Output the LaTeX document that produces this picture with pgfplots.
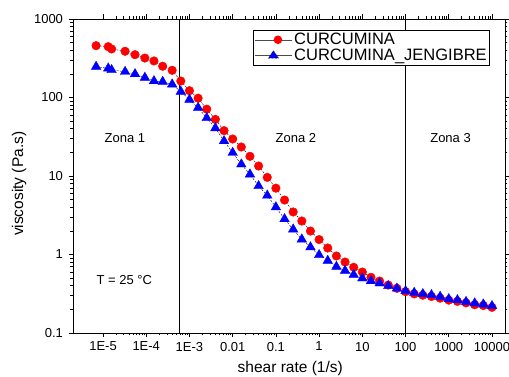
\documentclass[border=0pt]{standalone}
\usepackage{pgfplots}
\pgfplotsset{compat=1.18}
\usepackage{fontspec}
\setmainfont{Liberation Sans}
\definecolor{ored}{RGB}{255,0,0}
\definecolor{oblue}{RGB}{0,0,255}
\pgfplotstableread{
x y
6.92e-6 457
1.32e-5 444
1.58e-5 415
3.24e-5 388
5.5e-5 351
9.3e-5 318
1.51e-4 292
2.4e-4 250
3.98e-4 222
6.31e-4 162
1e-3 122
1.585e-3 98
2.512e-3 71
3.981e-3 52.6
6.31e-3 37.8
0.01 29.6
0.01585 23.4
0.02512 17.8
0.03981 13.4
0.0631 9.6
0.1 7.0
0.1585 4.94
0.2512 3.48
0.3981 2.67
0.631 1.99
1 1.55
1.585 1.21
2.512 0.957
3.981 0.802
6.31 0.687
10 0.598
15.85 0.512
25.12 0.459
39.81 0.408
63.1 0.371
100 0.336
158.5 0.315
251.2 0.303
398.1 0.292
631 0.278
1000 0.262
1585 0.253
2512 0.242
3981 0.229
6310 0.224
10000 0.212
}\curcumina
\pgfplotstableread{
x y
6.92e-6 247
1.32e-5 235
1.58e-5 224
3.24e-5 213
5.5e-5 199
9.3e-5 179
1.51e-4 162
2.4e-4 159
3.98e-4 147
6.31e-4 119
1e-3 94
1.585e-3 74
2.512e-3 54.8
3.981e-3 40.8
6.31e-3 27.9
0.01 19.8
0.01585 14.1
0.02512 10.5
0.03981 7.46
0.0631 5.65
0.1 4.01
0.1585 2.83
0.2512 2.09
0.3981 1.56
0.631 1.24
1 0.986
1.585 0.834
2.512 0.700
3.981 0.622
6.31 0.553
10 0.498
15.85 0.459
25.12 0.430
39.81 0.397
63.1 0.369
100 0.343
158.5 0.326
251.2 0.314
398.1 0.305
631 0.290
1000 0.271
1585 0.263
2512 0.250
3981 0.239
6310 0.232
10000 0.221
}\jengibre
\begin{document}
\begin{tikzpicture}
\begin{axis}[
  at={(0,0)}, anchor=south west,
  scale only axis, width=432pt, height=314pt,
  xmode=log, ymode=log,
  xmin=2.02e-6, xmax=2.0e4,
  ymin=0.1, ymax=1000,
  axis line style={line width=0.8pt},
  tick align=outside,
  major tick length=4.5pt, minor tick length=2.5pt,
  every tick/.style={black, line width=0.6pt},
  xtick={1e-5,1e-4,1e-3,1e-2,1e-1,1,10,100,1000,10000},
  xticklabels={1E-5,1E-4,1E-3,0.01,0.1,1,10,100,1000,10000},
  ytick={0.1,1,10,100,1000},
  yticklabels={0.1,1,10,100,1000},
  /pgf/number format/assume math mode=true,
  tick label style={font=\fontsize{13}{15}\selectfont},
  xticklabel style={yshift=-1pt},
  yticklabel style={xshift=-2pt},
  xlabel={shear rate (1/s)},
  ylabel={viscosity (Pa.s)},
  label style={font=\fontsize{15.5}{18}\selectfont},
  xlabel style={at={(axis description cs:0.503,-0.127)}, anchor=base},
  ylabel style={at={(axis description cs:-0.1157,0.475)}, anchor=base, rotate=0},
  legend style={at={(rel axis cs:0.9653,0.965)}, anchor=north east,
    draw=black, line width=0.6pt, font=\fontsize{16.5}{18}\selectfont,
    inner xsep=1pt, inner ysep=1pt, row sep=-1.5pt},
  legend cell align=left,
  clip=false,
]
\addplot[black, line width=0.4pt, dash pattern=on 2pt off 1.5pt,
  mark=*, mark size=4.3pt, mark options={solid, fill=ored, draw=ored},
  legend image code/.code={
    \draw[black!70, solid, line width=0.5pt] (0pt,0pt) -- (37pt,0pt);
    \path (18.5pt,0pt) node[circle, fill=ored, inner sep=0pt, minimum size=8.6pt]{};
  }] table[x=x,y=y]{\curcumina};
\addlegendentry{CURCUMINA}
\addplot[black, line width=0.4pt, dash pattern=on 2pt off 1.5pt,
  mark=triangle*, mark size=5.5pt, mark options={solid, fill=oblue, draw=oblue},
  legend image code/.code={
    \draw[black!70, solid, line width=0.5pt] (0pt,0pt) -- (37pt,0pt);
    \path[fill=oblue] (18.5pt,4.6pt) -- (23.5pt,-2.8pt) -- (13.5pt,-2.8pt) -- cycle;
  }] table[x=x,y=y]{\jengibre};
\addlegendentry{CURCUMINA\_JENGIBRE}
\addplot[black, line width=0.7pt, forget plot] coordinates {(5.9e-4,0.1) (5.9e-4,1000)};
\addplot[black, line width=0.7pt, forget plot] coordinates {(100,0.1) (100,1000)};
\node[font=\fontsize{13}{15}\selectfont] at (axis cs:3.2e-5,30.5) {Zona 1};
\node[font=\fontsize{13}{15}\selectfont] at (axis cs:0.29,30.5) {Zona 2};
\node[font=\fontsize{13}{15}\selectfont] at (axis cs:1100,30.5) {Zona 3};
\node[font=\fontsize{13}{15}\selectfont] at (axis cs:3.1e-5,0.473) {T = 25 °C};
\end{axis}
\pgfresetboundingbox
\useasboundingbox (-73pt,-44pt) rectangle (436pt,333pt);
\end{tikzpicture}
\end{document}
